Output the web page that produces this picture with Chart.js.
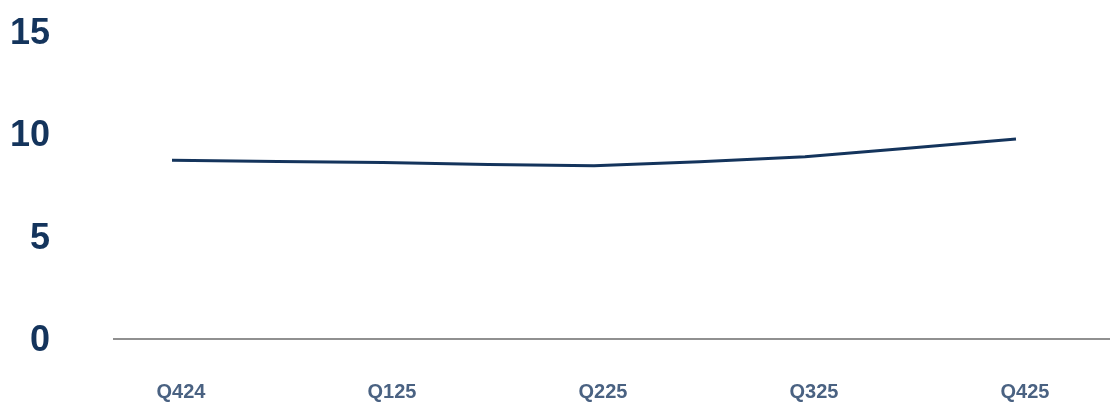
<!DOCTYPE html>
<html>
<head>
<meta charset="utf-8">
<script src="https://cdn.jsdelivr.net/npm/chart.js@4/dist/chart.umd.min.js"></script>
<style>
    html, body { margin: 0; padding: 0; background: #ffffff; }
    #wrap { width: 1110px; height: 403px; position: relative; }
</style>
</head>
<body>
<div id="wrap"><canvas id="lineChart"></canvas></div>
<script>
    // chart data
    const quarters = ['Q424', 'Q125', 'Q225', 'Q325', 'Q425'];
    const values = [8.73, 8.62, 8.46, 8.9, 9.77];
    const yTicks = [0, 5, 10, 15];

    const navy = '#14345c';

    // grey baseline at zero, runs wider than the plot area
    const baseLine = {
        id: 'baseLine',
        afterDraw(chart) {
            const ctx = chart.ctx;
            const y = chart.scales.y.getPixelForValue(0);
            ctx.save();
            ctx.strokeStyle = '#6b6b6b';
            ctx.lineWidth = 1.5;
            ctx.beginPath();
            ctx.moveTo(113, y);
            ctx.lineTo(chart.width, y);
            ctx.stroke();
            ctx.restore();
        }
    };

    var ctx = document.getElementById('lineChart').getContext('2d');
    var lineChart = new Chart(ctx, {
        type: 'line',
        data: {
            labels: quarters,
            datasets: [{
                data: values,
                borderColor: navy,
                borderWidth: 3,
                pointRadius: 0,
                tension: 0.1,
                fill: false
            }]
        },
        options: {
            responsive: true,
            maintainAspectRatio: false,
            animation: false,
            layout: {
                padding: { top: 32, left: 10, right: 94, bottom: 0 }
            },
            plugins: {
                legend: { display: false },
                tooltip: { enabled: false }
            },
            scales: {
                x: {
                    offset: false,
                    afterFit: scale => {
                        scale.height = 64;
                    },
                    grid: { display: false, drawTicks: false },
                    border: { display: false },
                    ticks: {
                        padding: 41,
                        labelOffset: 9,
                        color: '#4a6282',
                        font: { family: 'Liberation Sans', size: 20, weight: 'bold' }
                    }
                },
                y: {
                    min: yTicks[0],
                    max: yTicks[yTicks.length - 1],
                    afterBuildTicks: scale => {
                        scale.ticks = yTicks.map(v => ({ value: v }));
                    },
                    // keep the wide gap on the left without the extra top/bottom padding
                    afterFit: scale => {
                        scale.width = 162;
                        scale.paddingTop = 20;
                        scale.paddingBottom = 20;
                    },
                    grid: { display: false, drawTicks: false },
                    border: { display: false },
                    ticks: {
                        padding: 122,
                        labelOffset: 2,
                        color: navy,
                        font: { family: 'Liberation Sans', size: 36, weight: 'bold' }
                    }
                }
            }
        },
        plugins: [baseLine]
    });
</script>
</body>
</html>
